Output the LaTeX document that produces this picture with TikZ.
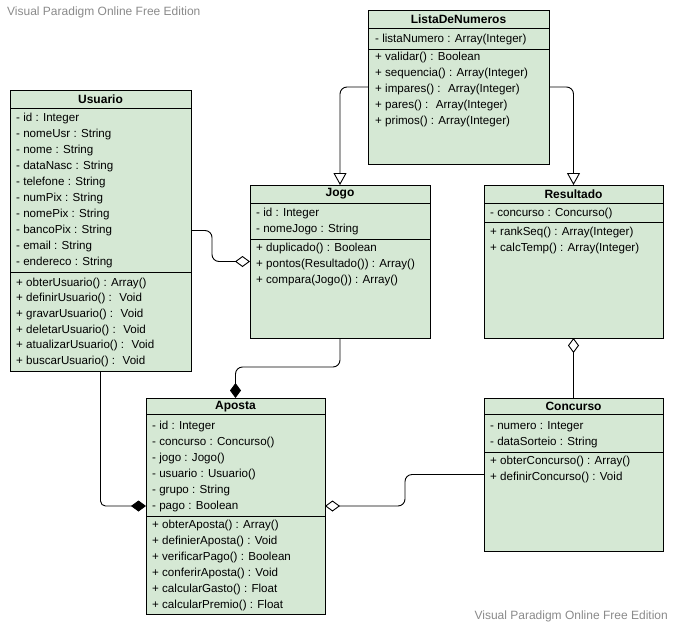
\documentclass[tikz,border=0pt]{standalone}
\usepackage{fontspec}
\setmainfont{Liberation Sans}
\usetikzlibrary{arrows.meta}
\definecolor{classfill}{HTML}{D5E8D4}
\definecolor{markgrey}{HTML}{8A8A8A}
\begin{document}
\begin{tikzpicture}[x=1pt,y=-1pt,
  classbox/.style={draw=black, fill=classfill, line width=0.9pt, inner sep=0pt, outer sep=0pt, anchor=north west},
  divider/.style={draw=black, line width=0.9pt},
  title/.style={inner sep=0pt, font=\fontsize{12}{14}\selectfont\bfseries},
  row/.style={anchor=west, inner sep=0pt, yshift=-0.8pt, font=\fontsize{11.6}{14}\selectfont, text height=8.5pt, text depth=2.5pt},
  wm/.style={inner sep=0pt, text=markgrey, font=\fontsize{12}{14}\selectfont},
  conn/.style={draw=black, line width=0.9pt, rounded corners=7pt},
  gen/.style={-{Triangle[open, length=12pt, width=13pt, fill=white]}},
  aggr/.style={-{Diamond[open, length=15pt, width=11pt, fill=white]}},
  comp/.style={-{Diamond[length=15pt, width=11pt]}}]
\useasboundingbox (0,0) rectangle (674,626);

% ---------- ListaDeNumeros ----------
\node[classbox, minimum width=181pt, minimum height=154pt] (lista) at (368,10) {};
\node[title] at (458.5,19) {ListaDeNumeros};
\draw[divider] (368,28) -- (549,28);
\draw[divider] (368,49) -- (549,49);
\node[row] at (375,38.5) {- listaNumero : Array(Integer)};
\foreach \t [count=\i] in {+ validar() : Boolean, + sequencia() : Array(Integer), + impares() : \ Array(Integer), + pares() : \ Array(Integer), + primos() : Array(Integer)}
  \node[row] at (375,{57+16*(\i-1)}) {\t};

% ---------- Usuario ----------
\node[classbox, minimum width=181pt, minimum height=281pt] (usuario) at (10,90) {};
\node[title] at (100.5,99) {Usuario};
\draw[divider] (10,108) -- (191,108);
\draw[divider] (10,272) -- (191,272);
\foreach \t [count=\i] in {- id : Integer, - nomeUsr : String, - nome : String, - dataNasc : String, - telefone : String, - numPix : String, - nomePix : String, - bancoPix : String, - email : String, - endereco : String}
  \node[row] at (16,{118+16*(\i-1)}) {\t};
\foreach \t [count=\i] in {+ obterUsuario() : Array(), + definirUsuario() : \ Void, + gravarUsuario() : \ Void, + deletarUsuario() : \ Void, + atualizarUsuario() : \ Void, + buscarUsuario() : \ Void}
  \node[row] at (16,{282.5+15.6*(\i-1)}) {\t};

% ---------- Jogo ----------
\node[classbox, minimum width=180pt, minimum height=153pt] (jogo) at (250,185) {};
\node[title] at (340,194) {Jogo};
\draw[divider] (250,203) -- (430,203);
\draw[divider] (250,239) -- (430,239);
\foreach \t [count=\i] in {- id : Integer, - nomeJogo : String}
  \node[row] at (256,{213+16*(\i-1)}) {\t};
\foreach \t [count=\i] in {+ duplicado() : Boolean, + pontos(Resultado()) : Array(), + compara(Jogo()) : Array()}
  \node[row] at (256,{248+16*(\i-1)}) {\t};

% ---------- Resultado ----------
\node[classbox, minimum width=179pt, minimum height=153pt] (resultado) at (484,185) {};
\node[title] at (573.5,194) {Resultado};
\draw[divider] (484,203) -- (663,203);
\draw[divider] (484,222) -- (663,222);
\node[row] at (490,213) {- concurso : Concurso()};
\foreach \t [count=\i] in {+ rankSeq() : Array(Integer), + calcTemp() : Array(Integer)}
  \node[row] at (490,{231.5+16*(\i-1)}) {\t};

% ---------- Aposta ----------
\node[classbox, minimum width=179pt, minimum height=216pt] (aposta) at (146,398) {};
\node[title] at (235.5,406.5) {Aposta};
\draw[divider] (146,414.5) -- (325,414.5);
\draw[divider] (146,516) -- (325,516);
\foreach \t [count=\i] in {- id : Integer, - concurso : Concurso(), - jogo : Jogo(), - usuario : Usuario(), - grupo : String, - pago : Boolean}
  \node[row] at (152,{426+16*(\i-1)}) {\t};
\foreach \t [count=\i] in {+ obterAposta() : Array(), + definierAposta() : Void, + verificarPago() : Boolean, + conferirAposta() : Void, + calcularGasto() : Float, + calcularPremio() : Float}
  \node[row] at (152,{525+16*(\i-1)}) {\t};

% ---------- Concurso ----------
\node[classbox, minimum width=179pt, minimum height=153pt] (concurso) at (484,398) {};
\node[title] at (573.5,406.5) {Concurso};
\draw[divider] (484,414.5) -- (663,414.5);
\draw[divider] (484,452) -- (663,452);
\foreach \t [count=\i] in {- numero : Integer, - dataSorteio : String}
  \node[row] at (490,{426+16*(\i-1)}) {\t};
\foreach \t [count=\i] in {+ obterConcurso() : Array(), + definirConcurso() : Void}
  \node[row] at (490,{461+16*(\i-1)}) {\t};

% ---------- relations ----------
\draw[conn, gen] (lista.west) -| (jogo.north);
\draw[conn, gen] (lista.east) -| (resultado.north);
\draw[conn, aggr] (usuario.east) -- (212,0 |- usuario.east) -- (212,0 |- jogo.west) -- (jogo.west);
\draw[conn, comp] (jogo.south) -- (jogo.south |- 0,367) -- (aposta.north |- 0,367) -- (aposta.north);
\draw[conn, rounded corners=5pt, comp] (usuario.south) |- (aposta.west);
\draw[conn, aggr] (concurso.west) -- (405,0 |- concurso.west) -- (405,0 |- aposta.east) -- (aposta.east);
\draw[conn, aggr] (concurso.north) -- (resultado.south);

% ---------- edition marks ----------
\node[wm, anchor=west] (markTop) at (7,12) {Visual Paradigm Online Free Edition};
\node[wm, anchor=east] (markBottom) at (668,616) {Visual Paradigm Online Free Edition};
\end{tikzpicture}
\end{document}
